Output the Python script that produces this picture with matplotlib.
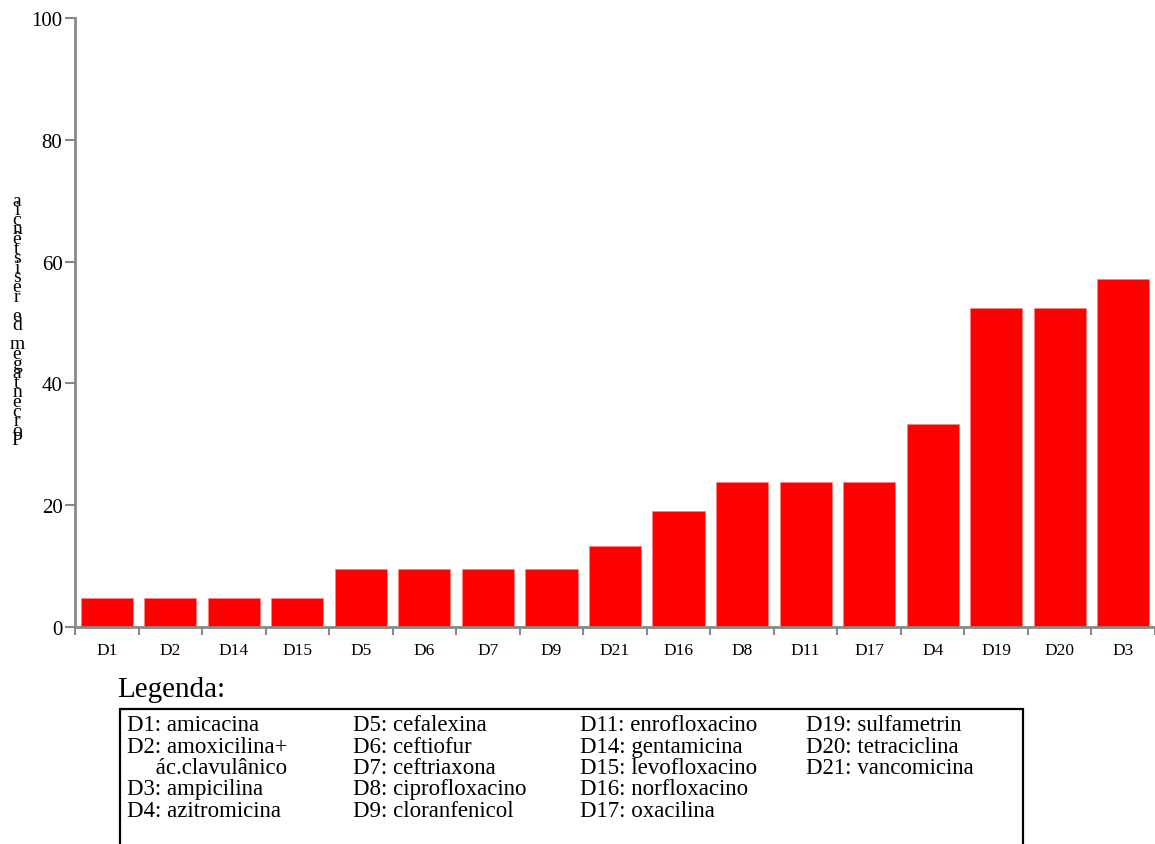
import numpy as np
import matplotlib.pyplot as plt

plt.rcParams['font.family'] = ['Liberation Serif', 'DejaVu Serif']

# resistance per drug, sorted ascending
drugs = ["D1", "D2", "D14", "D15", "D5", "D6", "D7", "D9", "D21",
         "D16", "D8", "D11", "D17", "D4", "D19", "D20", "D3"]
resist = [4.8, 4.8, 4.8, 4.8, 9.5, 9.5, 9.5, 9.5, 13.3,
          19.0, 23.8, 23.8, 23.8, 33.3, 52.4, 52.4, 57.1]
y_ticks = [0, 20, 40, 60, 80, 100]
ylabel = "Porcentagem de resistência"

legend_cols = [
    ["D1: amicacina", "D2: amoxicilina+", "     ác.clavulânico", "D3: ampicilina", "D4: azitromicina"],
    ["D5: cefalexina", "D6: ceftiofur", "D7: ceftriaxona", "D8: ciprofloxacino", "D9: cloranfenicol"],
    ["D11: enrofloxacino", "D14: gentamicina", "D15: levofloxacino", "D16: norfloxacino", "D17: oxacilina"],
    ["D19: sulfametrin", "D20: tetraciclina", "D21: vancomicina"],
]

W, H = 1155, 845
fig = plt.figure(figsize=(W / 100, H / 100), dpi=100)
ax = fig.add_axes([75 / W, 1 - 628 / H, 1 - 75 / W, (628 - 19) / H])

x = np.arange(len(drugs))
ax.bar(x, resist, width=0.82, color='#ff0000', edgecolor='#ff8080', linewidth=0.5)

grey = '#888888'
ax.set_xlim(-0.5, len(drugs) - 0.5)
ax.set_ylim(0, 100)
for s in ['top', 'right']:
    ax.spines[s].set_visible(False)
for s in ['left', 'bottom']:
    ax.spines[s].set_color(grey)
    ax.spines[s].set_linewidth(2)

ax.set_yticks(y_ticks)
ax.set_yticklabels([str(v) for v in y_ticks], fontsize=15)
ax.tick_params(axis='y', direction='out', length=7, width=1.5, color=grey, pad=2)

ax.set_xticks(x)
ax.set_xticklabels(drugs, fontsize=12.5)
ax.tick_params(axis='x', which='major', length=0, pad=11)
ax.set_xticks(np.arange(-0.5, len(drugs)), minor=True)
ax.tick_params(axis='x', which='minor', direction='out', length=6, width=1.5, color=grey)

# stacked vertical axis title: upright letters, bottom-to-top
fig.text(17 / W, 1 - 321 / H, "\n".join(reversed(ylabel)), fontsize=14,
         ha='center', va='center', ma='center', linespacing=0.43)

fig.text(117 / W, 1 - 690 / H, "Legenda:", fontsize=21, ha='left', va='center')
box = plt.Rectangle((120 / W, 1 - 850 / H), (1023 - 120) / W, (850 - 710) / H,
                    transform=fig.transFigure, fill=False, edgecolor='black', linewidth=1.6)
fig.add_artist(box)
col_x = [127, 353, 580, 806]
for cx, col in zip(col_x, legend_cols):
    for r, txt in enumerate(col):
        fig.text(cx / W, 1 - (726 + r * 21.3) / H, txt, fontsize=16.5,
                 ha='left', va='center')

fig.savefig("out.png", dpi=100)
